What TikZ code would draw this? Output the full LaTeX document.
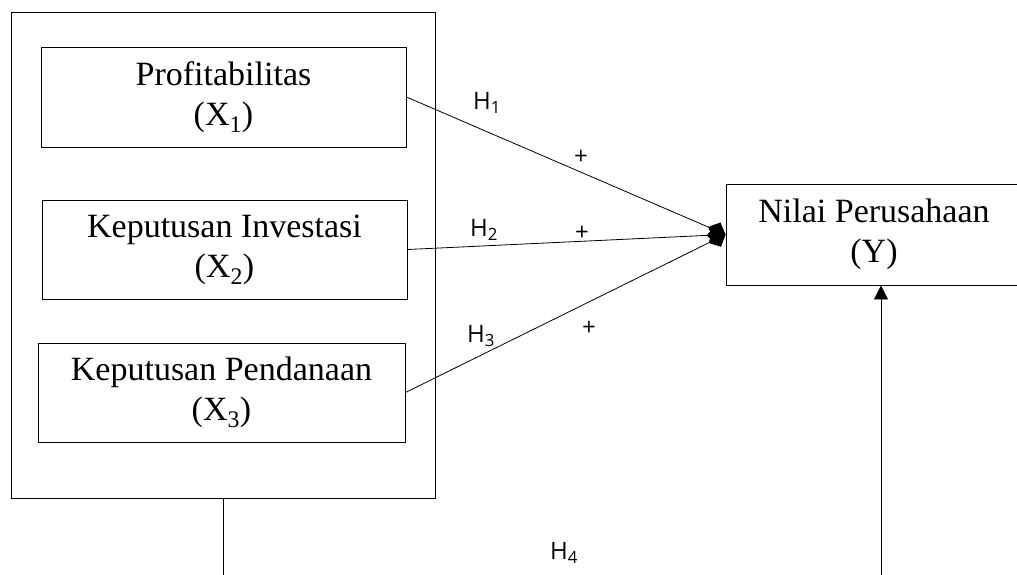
\documentclass[tikz,border=0pt]{standalone}
\usepackage{fontspec}
\setmainfont{Liberation Serif}
\newfontfamily\hfont{Open Sans}
\usetikzlibrary{arrows.meta}

\begin{document}
\begin{tikzpicture}[x=1pt,y=-1pt]
		\tikzset{varbox/.style={draw, line width=0.9pt, align=center, inner sep=0pt,
				font=\fontsize{34}{40}\selectfont}} %boxes in pixel sizes
		\tikzset{path/.style={draw, line width=0.8pt}}
		\tikzset{hlabel/.style={font=\hfont\fontsize{24}{26}\selectfont}}
		\useasboundingbox (0,0) rectangle (1017,574);
		\clip (0,0) rectangle (1017,574);
		\node[draw, line width=0.9pt, minimum width=424pt, minimum height=486pt] (grp) at (223,255) {};
		\node[varbox, minimum width=365pt, minimum height=100pt] (x1) at (223.5,97) {Profitabilitas\\(X\textsubscript{1})};
		\node[varbox, minimum width=365pt, minimum height=99pt] (x2) at (224.5,249.5) {Keputusan Investasi\\(X\textsubscript{2})};
		\node[varbox, minimum width=367pt, minimum height=99pt] (x3) at (221.5,392.5) {Keputusan Pendanaan\\(X\textsubscript{3})};
		\node[varbox, minimum width=296pt, minimum height=101pt] (y) at (874,234.5) {Nilai Perusahaan\\(Y)};
		\coordinate (down) at (223,580);
		\coordinate (up) at (881,580);
		\draw[path, -{Diamond[length=19pt,width=18pt]}] (x1.east) -- (y.west);
		\draw[path, -{Diamond[length=19pt,width=18pt]}] (x2.east) -- (y.west);
		\draw[path, -{Diamond[length=19pt,width=18pt]}] (x3.east) -- (y.west);
		\draw[path] (grp.south) -- (down);
		\draw[path, -{Triangle[length=14pt,width=14pt]}] (up) -- (up |- y.south);
		\node[hlabel] (h1) at (487,103) {H\textsubscript{1}};
		\node[hlabel] (h2) at (484,230) {H\textsubscript{2}};
		\node[hlabel] (h3) at (481,336) {H\textsubscript{3}};
		\node[hlabel] (h4) at (564,553) {H\textsubscript{4}};
		\node[hlabel] (p1) at (581,157) {+};
		\node[hlabel] (p2) at (582,233) {+};
		\node[hlabel] (p3) at (589,328) {+};
\end{tikzpicture}
\end{document}
